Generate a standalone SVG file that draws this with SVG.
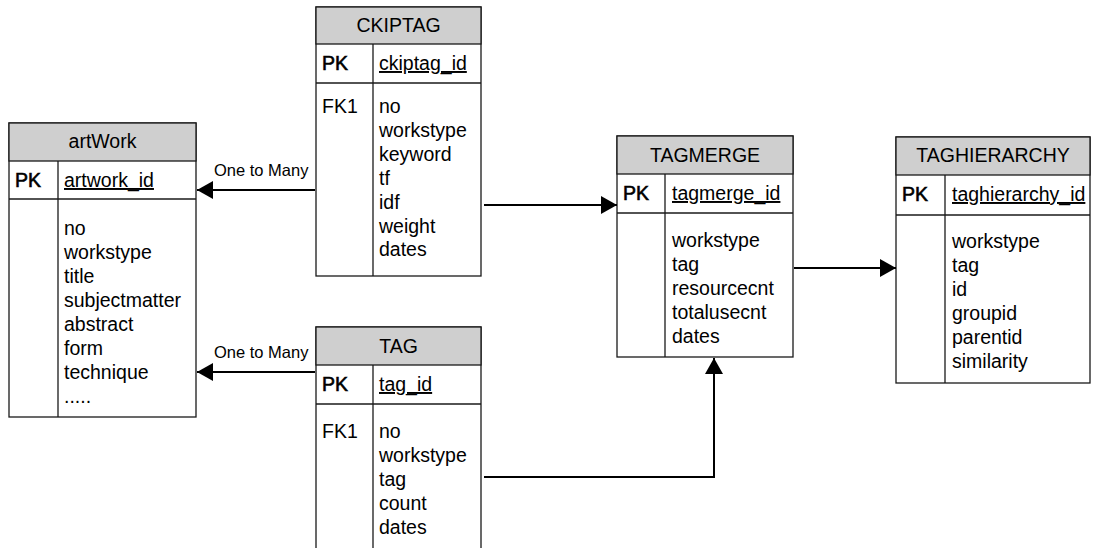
<svg xmlns="http://www.w3.org/2000/svg" width="1096" height="548" viewBox="0 0 1096 548">
<style>
.box{fill:#fff;stroke:#1a1a1a;stroke-width:1.3}
.hdr{fill:#cfcfcf;stroke:#1a1a1a;stroke-width:1.3}
.ln{stroke:#1a1a1a;stroke-width:1.3;fill:none}
text{font-family:"Liberation Sans",Arial,sans-serif;font-size:19.5px;fill:#000}
.t{text-anchor:middle}
.pk{stroke:#000;stroke-width:0.6}
.u{text-decoration:underline}
.lbl{font-size:16.5px}
.con{stroke:#000;stroke-width:2;fill:none;marker-end:url(#ah)}
</style>
<defs>
<marker id="ah" markerUnits="userSpaceOnUse" markerWidth="17" markerHeight="18" refX="16" refY="9" orient="auto">
<path d="M0,0 L16,9 L0,18 z" fill="#000"/>
</marker>
</defs>
<g id="artWork">
<rect class="box" x="9" y="123" width="187" height="294"/>
<rect class="hdr" x="9" y="123" width="187" height="38"/>
<line class="ln" x1="9" y1="199" x2="196" y2="199"/>
<line class="ln" x1="58" y1="161" x2="58" y2="417"/>
<text class="t" x="102.5" y="148">artWork</text>
<text class="pk" x="15" y="187">PK</text>
<text class="u" x="64" y="187">artwork_id</text>
<text x="64" y="235">no<tspan x="64" dy="24">workstype</tspan><tspan x="64" dy="24">title</tspan><tspan x="64" dy="24">subjectmatter</tspan><tspan x="64" dy="24">abstract</tspan><tspan x="64" dy="24">form</tspan><tspan x="64" dy="24">technique</tspan><tspan x="64" dy="24">.....</tspan></text>
</g>
<g id="CKIPTAG">
<rect class="box" x="316" y="7" width="165" height="269"/>
<rect class="hdr" x="316" y="7" width="165" height="37"/>
<line class="ln" x1="316" y1="83" x2="481" y2="83"/>
<line class="ln" x1="373" y1="44" x2="373" y2="276"/>
<text class="t" x="398.5" y="32">CKIPTAG</text>
<text class="pk" x="322" y="70">PK</text>
<text class="u" x="379" y="70">ckiptag_id</text>
<text x="322" y="113">FK1</text>
<text x="379" y="113">no<tspan x="379" dy="23.9">workstype</tspan><tspan x="379" dy="23.9">keyword</tspan><tspan x="379" dy="23.9">tf</tspan><tspan x="379" dy="23.9">idf</tspan><tspan x="379" dy="23.9">weight</tspan><tspan x="379" dy="23.9">dates</tspan></text>
</g>
<g id="TAG">
<rect class="box" x="316" y="327" width="165" height="240"/>
<rect class="hdr" x="316" y="327" width="165" height="38"/>
<line class="ln" x1="316" y1="404" x2="481" y2="404"/>
<line class="ln" x1="373" y1="365" x2="373" y2="567"/>
<text class="t" x="398.5" y="353">TAG</text>
<text class="pk" x="322" y="391">PK</text>
<text class="u" x="379" y="391">tag_id</text>
<text x="322" y="438">FK1</text>
<text x="379" y="438">no<tspan x="379" dy="24">workstype</tspan><tspan x="379" dy="24">tag</tspan><tspan x="379" dy="24">count</tspan><tspan x="379" dy="24">dates</tspan></text>
</g>
<g id="TAGMERGE">
<rect class="box" x="617" y="136" width="176" height="221"/>
<rect class="hdr" x="617" y="136" width="176" height="38"/>
<line class="ln" x1="617" y1="213" x2="793" y2="213"/>
<line class="ln" x1="665" y1="174" x2="665" y2="357"/>
<text class="t" x="705" y="162">TAGMERGE</text>
<text class="pk" x="623" y="200">PK</text>
<text class="u" x="672" y="200">tagmerge_id</text>
<text x="672" y="247">workstype<tspan x="672" dy="24">tag</tspan><tspan x="672" dy="24">resourcecnt</tspan><tspan x="672" dy="24">totalusecnt</tspan><tspan x="672" dy="24">dates</tspan></text>
</g>
<g id="TAGHIERARCHY">
<rect class="box" x="896" y="137" width="194" height="246"/>
<rect class="hdr" x="896" y="137" width="194" height="38"/>
<line class="ln" x1="896" y1="215" x2="1090" y2="215"/>
<line class="ln" x1="945" y1="175" x2="945" y2="383"/>
<text class="t" x="993" y="162">TAGHIERARCHY</text>
<text class="pk" x="902" y="201">PK</text>
<text class="u" x="952" y="201">taghierarchy_id</text>
<text x="952" y="248">workstype<tspan x="952" dy="24">tag</tspan><tspan x="952" dy="24">id</tspan><tspan x="952" dy="24">groupid</tspan><tspan x="952" dy="24">parentid</tspan><tspan x="952" dy="24">similarity</tspan></text>
</g>
<g id="connectors">
<path class="con" d="M315,190 L197,190"/>
<text class="lbl" x="214" y="176">One to Many</text>
<path class="con" d="M315,372 L197,372"/>
<text class="lbl" x="214" y="358">One to Many</text>
<path class="con" d="M484,205 L617,205"/>
<path class="con" d="M484,477 L714,477 L714,358"/>
<path class="con" d="M794,268 L896,268"/>
</g>
</svg>
